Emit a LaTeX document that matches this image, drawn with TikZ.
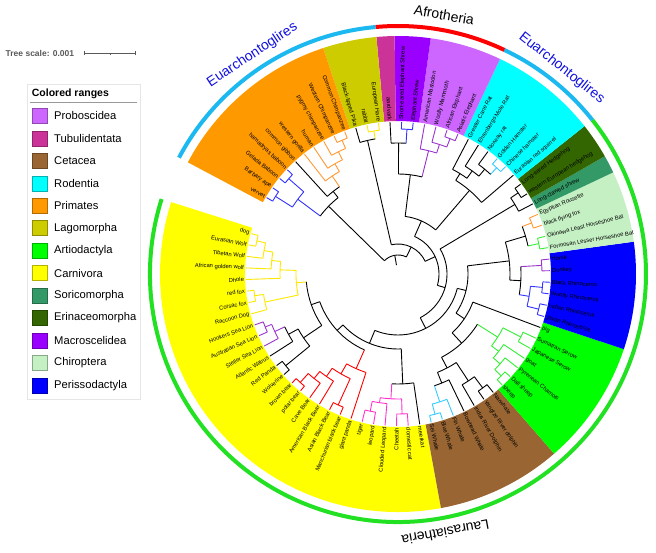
\documentclass[tikz,border=0pt]{standalone}
\usepackage{fontspec}
\setmainfont{Liberation Sans}

% colored ranges
\definecolor{rProbo}{HTML}{CC66FF}
\definecolor{rTubuli}{HTML}{CC3399}
\definecolor{rCeta}{HTML}{996633}
\definecolor{rRoden}{HTML}{00FFFF}
\definecolor{rPrima}{HTML}{FF9900}
\definecolor{rLago}{HTML}{CCCC00}
\definecolor{rArtio}{HTML}{00FF00}
\definecolor{rCarni}{HTML}{FFFF00}
\definecolor{rSoric}{HTML}{339966}
\definecolor{rErina}{HTML}{336600}
\definecolor{rMacro}{HTML}{9900FF}
\definecolor{rChiro}{HTML}{C4F0C4}
\definecolor{rPeris}{HTML}{0000FF}
% branch colours
\definecolor{lnyellow}{HTML}{FFE800}
\definecolor{lnpurple}{HTML}{9933CC}
\definecolor{lnred}{HTML}{FF0000}
\definecolor{lnpink}{HTML}{FF33CC}
\definecolor{lncyan}{HTML}{33CCFF}
\definecolor{lngreen}{HTML}{33EE33}
\definecolor{lnblue}{HTML}{3333FF}
\definecolor{lnorange}{HTML}{FF9933}
% outer ring
\definecolor{ringcyan}{HTML}{1CB8F0}
\definecolor{ringred}{HTML}{FF0000}
\definecolor{ringgreen}{HTML}{22E022}
\definecolor{groupblue}{HTML}{1010E0}

% angle of leaf number #1
\newcommand\ang[1]{164.6+(#1)*4.37}

% leaf: [branch colour]{name}{index}{label}
\newcommand\leaf[4][black]{%
  \expandafter\xdef\csname p@#2\endcsname{#3}%
  \expandafter\xdef\csname r@#2\endcsname{152}%
  \expandafter\xdef\csname c@#2\endcsname{#1}%
  \pgfmathsetmacro\tL{mod(\ang{#3},360)}%
  \ifdim\tL pt>90pt\relax\ifdim\tL pt<270pt\relax
      \node[lbl,anchor=east,rotate=\tL+180] (#2) at (\tL:154) {#4};%
    \else\node[lbl,anchor=west,rotate=\tL] (#2) at (\tL:154) {#4};\fi
  \else\node[lbl,anchor=west,rotate=\tL] (#2) at (\tL:154) {#4};\fi}

% inner node: [colour]{name}{radius}{child1}{child2}
\newcommand\join[5][black]{%
  \edef\tA{\csname p@#4\endcsname}\edef\tB{\csname p@#5\endcsname}%
  \edef\tRa{\csname r@#4\endcsname}\edef\tRb{\csname r@#5\endcsname}%
  \edef\tCa{\csname c@#4\endcsname}\edef\tCb{\csname c@#5\endcsname}%
  \draw[branch,color=\tCa] ({\ang{\tA}}:#3) -- ({\ang{\tA}}:\tRa);
  \draw[branch,color=\tCb] ({\ang{\tB}}:#3) -- ({\ang{\tB}}:\tRb);
  \draw[branch,color=#1] ({\ang{\tA}}:#3) arc[start angle={\ang{\tA}}, end angle={\ang{\tB}}, radius=#3];
  \pgfmathsetmacro\tM{(\tA+\tB)/2}%
  \expandafter\xdef\csname p@#2\endcsname{\tM}%
  \expandafter\xdef\csname r@#2\endcsname{#3}%
  \expandafter\xdef\csname c@#2\endcsname{#1}}

% colored range from leaf #2 to leaf #3
\newcommand\crange[3]{%
  \fill[#1] ({\ang{#2-0.5}}:153) arc[start angle={\ang{#2-0.5}}, end angle={\ang{#3+0.5}}, radius=153]
    -- ({\ang{#3+0.5}}:238) arc[start angle={\ang{#3+0.5}}, end angle={\ang{#2-0.5}}, radius=238] -- cycle;}

\tikzset{
  lbl/.style={font=\fontsize{5.8}{6}\selectfont, inner sep=0pt},
  branch/.style={line width=0.9pt},
  ring/.style={line width=4pt},
  group/.style={font=\fontsize{14}{16}\selectfont, inner sep=0pt},
  legtext/.style={font=\fontsize{11.2}{13}\selectfont, inner sep=0pt, anchor=west}
}

\begin{document}
\begin{tikzpicture}[x=1pt,y=1pt]
\useasboundingbox (0,0) rectangle (656,552);

% scale
\node[anchor=west, inner sep=0, text=black!65, font=\bfseries\fontsize{8.5}{10}\selectfont] (scaletxt) at (5.5,498.7) {Tree scale: 0.001};
\draw[black!65, line width=0.6pt] (84,498.7) -- (135.7,498.7);
\draw[black!65, line width=0.6pt] (84,496.7) -- (84,500.7) (135.7,496.7) -- (135.7,500.7) (109.8,497.2) -- (109.8,498.7);

% legend
\draw[black!10, fill=white] (27.3,153) rectangle (140,467.7);
\node[anchor=base west, inner sep=0, font=\bfseries\fontsize{10.5}{12}\selectfont] (legtitle) at (31.7,455.3) {Colored ranges};
\draw[black!40, line width=0.8pt] (30,449.3) -- (137,449.3);
\foreach \col/\nm [count=\i from 0] in {rProbo/Proboscidea, rTubuli/Tubulidentata, rCeta/Cetacea, rRoden/Rodentia, rPrima/Primates, rLago/Lagomorpha, rArtio/Artiodactyla, rCarni/Carnivora, rSoric/Soricomorpha, rErina/Erinaceomorpha, rMacro/Macroscelidea, rChiro/Chiroptera, rPeris/Perissodactyla}{
  \pgfmathsetmacro\yy{552-(115.8+22.47*\i)}
  \filldraw[fill=\col, draw=\col!70!black, line width=0.4pt] (31.7,\yy-7.5) rectangle (46.7,\yy+7.5);
  \node[legtext] (leg\i) at (54,\yy) {\nm};
}

\begin{scope}[shift={(398,278)}]
% colored ranges
\crange{rCarni}{0}{26}
\crange{rCeta}{27}{33}
\crange{rArtio}{34}{40}
\crange{rPeris}{41}{46}
\crange{rChiro}{47}{50}
\crange{rSoric}{51}{51}
\crange{rErina}{52}{53}
\crange{rRoden}{54}{59}
\crange{rProbo}{60}{63}
\crange{rMacro}{64}{65}
\crange{rTubuli}{66}{66}
\crange{rLago}{67}{69}
\crange{rPrima}{70}{79}

% outer ring
\draw[ring, ringgreen] ({\ang{-0.5}}:248) arc[start angle={\ang{-0.5}}, end angle={\ang{53.5}}, radius=248];
\draw[ring, ringcyan] ({\ang{53.5}}:248) arc[start angle={\ang{53.5}}, end angle={\ang{59.5}}, radius=248];
\draw[ring, ringred] ({\ang{59.5}}:248) arc[start angle={\ang{59.5}}, end angle={\ang{66.5}}, radius=248];
\draw[ring, ringcyan] ({\ang{66.5}}:248) arc[start angle={\ang{66.5}}, end angle={\ang{79.5}}, radius=248];
\node[group, rotate=-10.1] (afro) at ({\ang{63}}:263) {Afrotheria};
\node[group, text=groupblue, rotate=33.6] (euarchL) at ({\ang{73}}:263) {Euarchontoglires};
\node[group, text=groupblue, rotate=-38.5] (euarchR) at ({\ang{56.5}}:263) {Euarchontoglires};
\node[group, rotate=190.4] (laura) at ({\ang{26.5}}:263) {Laurasiatheria};

% leaves
\leaf[lnyellow]{dog}{0}{dog}
\leaf[lnyellow]{ewolf}{1}{Eurasian Wolf}
\leaf[lnyellow]{twolf}{2}{Tibetan Wolf}
\leaf[lnyellow]{agwolf}{3}{African golden wolf}
\leaf[lnyellow]{dhole}{4}{Dhole}
\leaf[lnyellow]{redfox}{5}{red fox}
\leaf[lnyellow]{corsac}{6}{Corsac fox}
\leaf[lnyellow]{raccoon}{7}{Raccoon Dog}
\leaf[lnpurple]{hooker}{8}{Hookers Sea Lion}
\leaf[lnpurple]{auslion}{9}{Australian Sea Lion}
\leaf[lnpurple]{steller}{10}{Steller Sea Lion}
\leaf{walrus}{11}{Atlantic Walrus}
\leaf{rpanda}{12}{Red Panda}
\leaf{wolverine}{13}{Wolverine}
\leaf[lnred]{brown}{14}{brown bear}
\leaf[lnred]{polar}{15}{polar bear}
\leaf[lnred]{cave}{16}{Cave Bear}
\leaf[lnred]{amblack}{17}{American Black Bear}
\leaf[lnred]{asblack}{18}{Asian Black Bear}
\leaf[lnred]{manblack}{19}{Manchurian black bear}
\leaf[lnred]{panda}{20}{giant panda}
\leaf[lnpink]{tiger}{21}{tiger}
\leaf[lnpink]{leopard}{22}{leopard}
\leaf[lnpink]{cleopard}{23}{Clouded Leopard}
\leaf[lnpink]{cheetah}{24}{Cheetah}
\leaf[lnpink]{cat}{25}{domestic cat}
\leaf{meerkat}{26}{meerkat}
\leaf[lncyan]{sei}{27}{Sei Whale}
\leaf[lncyan]{bluew}{28}{Blue Whale}
\leaf[lncyan]{fin}{29}{Fin Whale}
\leaf{bowhead}{30}{Bowhead Whale}
\leaf{indus}{31}{Indus River Dolphin}
\leaf{yangtze}{32}{Yangtze River dolphin}
\leaf{narwhal}{33}{Narwhale}
\leaf[lngreen]{sheep}{34}{sheep}
\leaf[lngreen]{dall}{35}{Dall sheep}
\leaf[lngreen]{chamois}{36}{Pyrenean Chamois}
\leaf[lngreen]{goat}{37}{goat}
\leaf[lngreen]{jserow}{38}{Japanese Serow}
\leaf[lngreen]{sserow}{39}{Sumatran Serow}
\leaf{pig}{40}{pig}
\leaf[lnblue]{javan}{41}{Javan Rhinoceros}
\leaf[lnblue]{indian}{42}{Indian Rhinoceros}
\leaf[lnblue]{woolly}{43}{Woolly Rhinoceros}
\leaf[lnblue]{blackr}{44}{Black Rhinoceros}
\leaf[lnpurple]{donkey}{45}{Donkey}
\leaf[lnpurple]{horse}{46}{Horse}
\leaf[lngreen]{formosan}{47}{Formosan Lesser Horseshoe Bat}
\leaf[lngreen]{okinawa}{48}{Okinawa Least Horseshoe Bat}
\leaf[lnorange]{flyfox}{49}{black flying fox}
\leaf[lnorange]{rousette}{50}{Egyptian Rousette}
\leaf{shrew}{51}{Long-clawed shrew}
\leaf{wehog}{52}{western European hedgehog}
\leaf{lehog}{53}{Long-eared Hedgehog}
\leaf{squirrel}{54}{Eurasian red squirrel}
\leaf[lncyan]{chamster}{55}{Chinese hamster}
\leaf[lncyan]{ghamster}{56}{Golden Hamster}
\leaf{nrat}{57}{Norway rat}
\leaf{molerat}{58}{Ehrenbergs Mole Rat}
\leaf{canerat}{59}{Greater Cane Rat}
\leaf[lnpurple]{asiatic}{60}{Asiatic Elephant}
\leaf[lnpurple]{african}{61}{African Elephant}
\leaf[lnpurple]{mammoth}{62}{Woolly Mammoth}
\leaf[lnpurple]{mastodon}{63}{American Mastodon}
\leaf[lnblue]{eshrew}{64}{Elephant Shrew}
\leaf[lnblue]{seshrew}{65}{Short-eared Elephant Shrew}
\leaf{aardvark}{66}{aardvark}
\leaf[lnyellow]{hare}{67}{European Hare}
\leaf[lnyellow]{rabbit}{68}{rabbit}
\leaf{pika}{69}{Black-lipped Pika}
\leaf[lnorange]{cchimp}{70}{Common Chimpanzee}
\leaf[lnorange]{wchimp}{71}{Western Chimpanzee}
\leaf[lnorange]{pchimp}{72}{pygmy chimpanzee}
\leaf[lnorange]{human}{73}{human}
\leaf[lnorange]{gorilla}{74}{western gorilla}
\leaf{gibbon}{75}{common gibbon}
\leaf[lnblue]{hamadryas}{76}{hamadryas baboon}
\leaf[lnblue]{gelada}{77}{Gelada Baboon}
\leaf[lnblue]{barbary}{78}{Barbary ape}
\leaf[lnblue]{vervet}{79}{vervet}

% Carnivora
\join[lnyellow]{cA}{145}{dog}{ewolf}
\join[lnyellow]{cB}{136}{cA}{twolf}
\join[lnyellow]{cC}{127}{cB}{agwolf}
\join[lnyellow]{cD}{118}{cC}{dhole}
\join[lnyellow]{cE}{145}{redfox}{corsac}
\join[lnyellow]{cF}{136}{cE}{raccoon}
\join[lnyellow]{cani}{102}{cD}{cF}
\join[lnpurple]{pA}{143}{hooker}{auslion}
\join[lnpurple]{pB}{136}{pA}{steller}
\join{pC}{125}{pB}{walrus}
\join{mA}{145}{rpanda}{wolverine}
\join{pm}{114}{pC}{mA}
\join{cpm}{92}{cani}{pm}
\join[lnred]{uA}{146}{brown}{polar}
\join[lnred]{uB}{134}{uA}{cave}
\join[lnred]{uC}{125}{uB}{amblack}
\join[lnred]{uD}{144}{asblack}{manblack}
\join[lnred]{uE}{115}{uC}{uD}
\join[lnred]{uF}{103.5}{uE}{panda}
\join{canif}{83}{cpm}{uF}
\join[lnpink]{fA}{140}{tiger}{leopard}
\join[lnpink]{fB}{130}{fA}{cleopard}
\join[lnpink]{fC}{140}{cheetah}{cat}
\join[lnpink]{fD}{125}{fB}{fC}
\join{felif}{110}{fD}{meerkat}
\join{carn}{75}{canif}{felif}
% Cetartiodactyla
\join[lncyan]{wA}{145}{sei}{bluew}
\join[lncyan]{wB}{134.5}{wA}{fin}
\join{wC}{117.5}{wB}{bowhead}
\join{wD}{142}{yangtze}{narwhal}
\join{wE}{128}{indus}{wD}
\join{ceta}{106}{wC}{wE}
\join[lngreen]{gA}{145}{sheep}{dall}
\join[lngreen]{gB}{136}{gA}{chamois}
\join[lngreen]{gC}{127}{gB}{goat}
\join[lngreen]{gD}{138}{jserow}{sserow}
\join[lngreen]{gE}{118}{gC}{gD}
\join{cet}{94}{ceta}{gE}
\join{cetp}{80}{cet}{pig}
% Perissodactyla, Chiroptera
\join[lnblue]{rA}{145}{javan}{indian}
\join[lnblue]{rB}{145}{woolly}{blackr}
\join[lnblue]{rC}{133}{rA}{rB}
\join[lnpurple]{eA}{144}{donkey}{horse}
\join{peri}{123}{rC}{eA}
\join[lngreen]{bA}{144}{formosan}{okinawa}
\join[lnorange]{bB}{143}{flyfox}{rousette}
\join{bat}{133}{bA}{bB}
\join{pb}{112}{peri}{bat}
\join{zc}{70}{cetp}{pb}
\join{yc}{61}{carn}{zc}
% shrew, hedgehogs
\join{hA}{145}{wehog}{lehog}
\join{hB}{136}{shrew}{hA}
\join{xc}{49}{yc}{hB}
% rodents
\join[lncyan]{oA}{145}{chamster}{ghamster}
\join{oB}{136}{oA}{nrat}
\join{oC}{127}{oB}{molerat}
\join{oD}{118}{oC}{canerat}
\join{rod}{110}{squirrel}{oD}
% Afrotheria
\join[lnpurple]{prA}{145}{asiatic}{african}
\join[lnpurple]{prB}{136}{prA}{mammoth}
\join[lnpurple]{prC}{127}{prB}{mastodon}
\join[lnblue]{mc}{145}{eshrew}{seshrew}
\join{mcA}{131}{mc}{aardvark}
\join{afr}{100}{prC}{mcA}
\join{ra}{58}{rod}{afr}
\join{nB}{41}{xc}{ra}
% Lagomorpha
\join[lnyellow]{lA}{145}{hare}{rabbit}
\join{lB}{137}{lA}{pika}
\join{nA}{30}{nB}{lB}
% Primates
\join[lnorange]{hmA}{145}{cchimp}{wchimp}
\join[lnorange]{hmB}{136}{hmA}{pchimp}
\join[lnorange]{hmC}{127}{hmB}{human}
\join[lnorange]{hmD}{118}{hmC}{gorilla}
\join{hmE}{105}{hmD}{gibbon}
\join[lnblue]{bbA}{145}{hamadryas}{gelada}
\join[lnblue]{bbB}{145}{barbary}{vervet}
\join[lnblue]{bbC}{125}{bbA}{bbB}
\join{prim}{97}{hmE}{bbC}
\join{root}{19}{nA}{prim}
% root stub
\edef\tA{\csname p@root\endcsname}
\draw[branch] ({\ang{\tA}}:19) -- ({\ang{\tA}}:9);
\end{scope}
\end{tikzpicture}
\end{document}
